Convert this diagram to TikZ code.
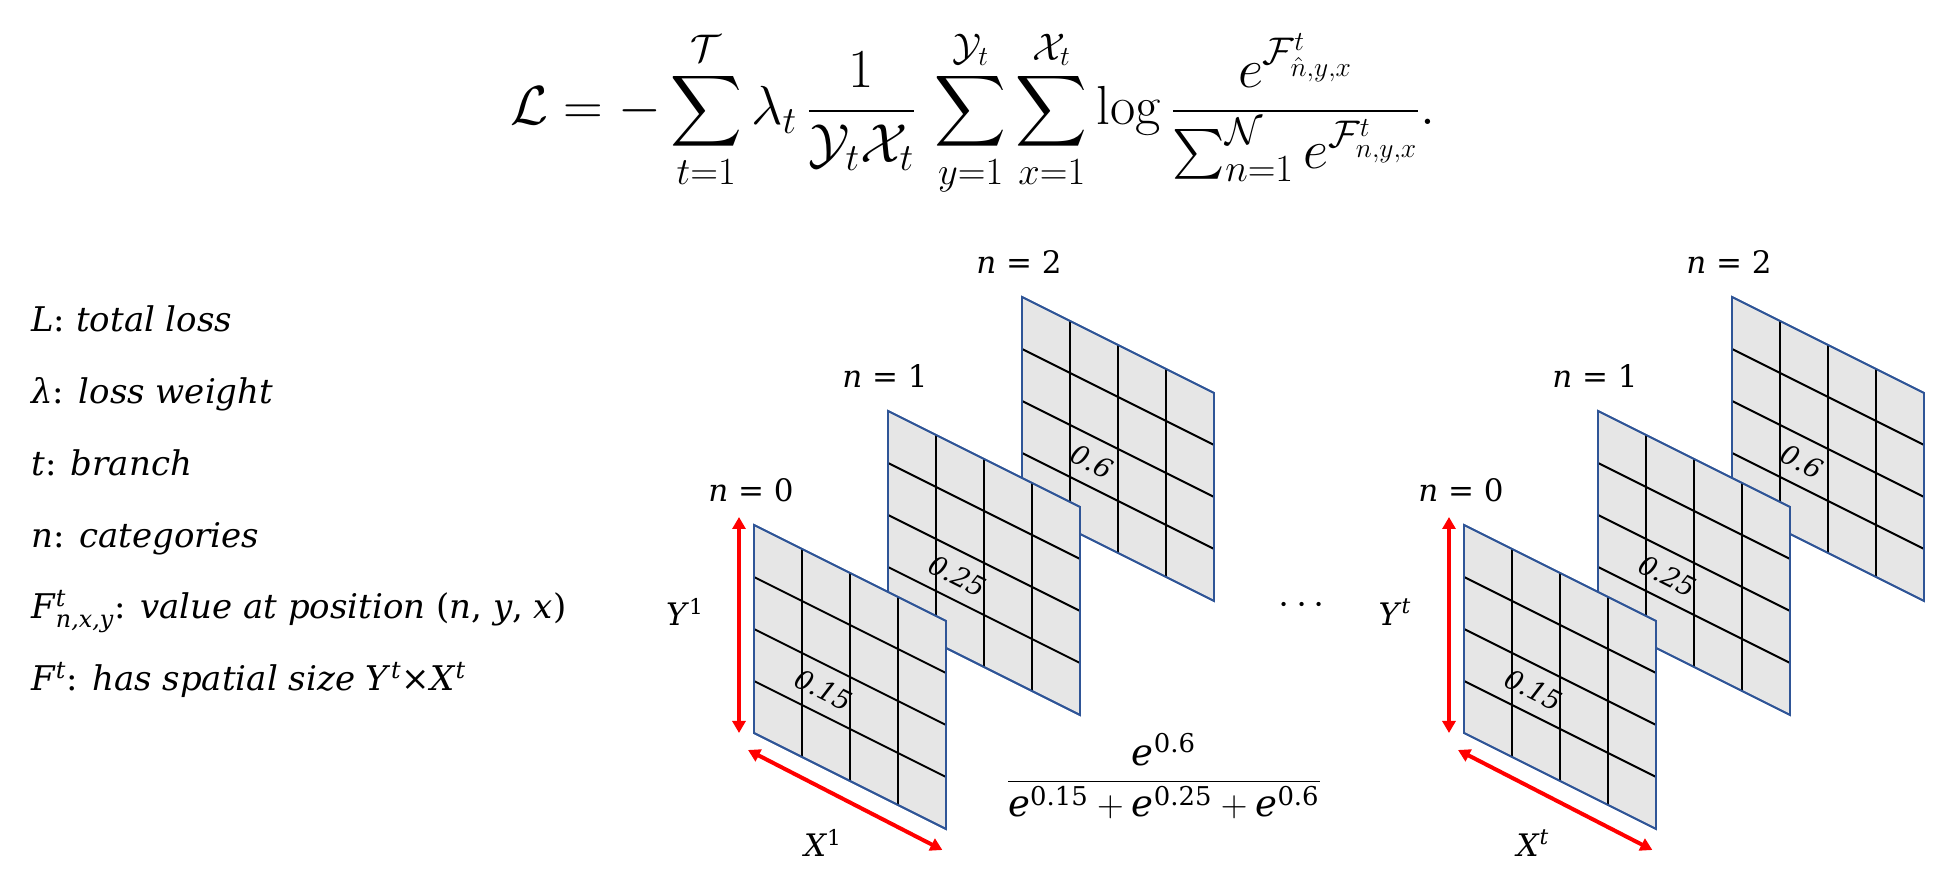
\documentclass[tikz,border=0pt]{standalone}
\usepackage{fix-cm}
\usepackage{amsmath}
\usepackage{fontspec}
\usepackage{xcolor}
\usetikzlibrary{positioning,calc,arrows.meta}

\newfontfamily\camfont{DejaVu Serif}

\definecolor{mapgray}{HTML}{E6E6E6}
\definecolor{mapedge}{HTML}{2F5597}
\definecolor{arrred}{HTML}{FF0000}

\begin{document}
\begin{tikzpicture}[x=0.5pt, y=-0.5pt,
  fmap/.style={fill=mapgray, draw=mapedge, line width=0.9pt},
  gridln/.style={black, line width=1pt},
  dimarr/.style={{Triangle[length=6pt,width=6.5pt]}-{Triangle[length=6pt,width=6.5pt]},
                 arrred, line width=2pt},
  lbl/.style={font=\camfont\fontsize{15.5}{19}\selectfont, inner sep=0pt},
  note/.style={font=\camfont\fontsize{17}{20}\selectfont, anchor=base west, inner sep=0pt},
  val/.style={font=\camfont\fontsize{13.5}{16}\selectfont\itshape, rotate=-26.57, inner sep=0pt}
]
  \useasboundingbox (0,0) rectangle (1950,892);

  % Loss
  \node[anchor=base, font=\fontsize{27.5}{33}\selectfont, inner sep=0pt] (loss) at (973,125)
    {$\displaystyle \mathcal{L}=-\sum_{t=1}^{\mathcal{T}}\lambda_t\,\frac{1}{\mathcal{Y}_t\mathcal{X}_t}\,
      \sum_{y=1}^{\mathcal{Y}_t}\sum_{x=1}^{\mathcal{X}_t}\log
      \frac{e^{\mathcal{F}^t_{\hat{n},y,x}}}{\sum_{n=1}^{\mathcal{N}}e^{\mathcal{F}^t_{n,y,x}}}.$};

  % Notation
  \foreach \txt [count=\i from 0] in {
      {\textit{L}: \textit{total loss}},
      {\textit{λ}: \textit{loss weight}},
      {\textit{t}: \textit{branch}},
      {\textit{n}: \textit{categories}},
      {\textit{F}$^{\textit{t}}_{\textit{n,x,y}}$: \textit{value at position} (\textit{n}, \textit{y}, \textit{x})},
      {\textit{F}$^{\textit{t}}$: \textit{has spatial size} \textit{Y}$^{\textit{t}}$×\textit{X}$^{\textit{t}}$}}{
    \node[note] (note\i) at (31,{332+71.7*\i}) {\txt};
  }

  % Feature maps, back to front
  \foreach \g in {0,710}{
    \foreach \k/\v in {2/0.6, 1/0.25, 0/0.15}{
      \begin{scope}[shift={({754+\g+134*\k},{525-114*\k})}, x={(24pt,-12pt)}, y={(0pt,-26pt)}]
        \draw[fmap] (0,0) coordinate (m\g-\k-tl) -- (4,0) -- (4,4) coordinate (m\g-\k-br)
          -- (0,4) coordinate (m\g-\k-bl) -- cycle;
        \foreach \i in {1,2,3}{
          \draw[gridln] (\i,0) -- (\i,4);
          \draw[gridln] (0,\i) -- (4,\i);
        }
        \draw[mapedge, line width=0.9pt] (0,0) -- (4,0) -- (4,4) -- (0,4) -- cycle;
        \node[val] (m\g-\k-val) at (1.45,2.5) {\v};
        \node[lbl] (m\g-\k-n) at ([xshift=-1.5pt,yshift=17.5pt]m\g-\k-tl) {\textit{n} = \k};
      \end{scope}
    }
  }

  % Size arrows
  \foreach \g/\s in {0/1, 710/\textit{t}}{
    \coordinate (yt\g) at ([xshift=-7.5pt,yshift=4pt]m\g-0-tl);
    \coordinate (yb\g) at ([xshift=-7.5pt]m\g-0-bl);
    \coordinate (xa\g) at ([shift={(-3pt,-8.5pt)}]m\g-0-bl);
    \coordinate (xb\g) at ([shift={(-1.8pt,-10.5pt)}]m\g-0-br);
    \draw[dimarr] (yb\g) -- (yt\g);
    \draw[dimarr] (xa\g) -- (xb\g);
    \node[lbl] (ylab\g) at ({685+\g},612) {\textit{Y}$^{\text{\s}}$};
    \node[lbl] (xlab\g) at ({823+\g},843) {\textit{X}$^{\text{\s}}$};
  }

  \node[lbl, font=\fontsize{20}{24}\selectfont] (dots) at (1305,606) {$\cdots$};

  \node[lbl, font=\camfont\fontsize{18.5}{22}\selectfont] (ratio) at (1164,776)
    {$\dfrac{\textit{e}^{\text{0.6}}}{\textit{e}^{\text{0.15}}+\textit{e}^{\text{0.25}}+\textit{e}^{\text{0.6}}}$};
\end{tikzpicture}
\end{document}
